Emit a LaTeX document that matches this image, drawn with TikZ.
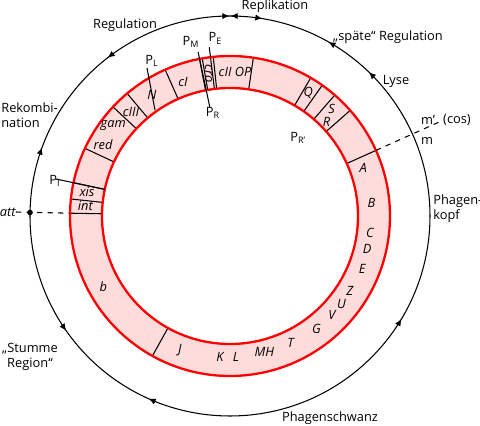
\documentclass[tikz,border=0pt]{standalone}
\usepackage{fontspec}
\setmainfont{Open Sans}
\usepackage{xcolor}
\definecolor{ringfill}{HTML}{FFDCDC}
\definecolor{ringedge}{HTML}{FF0000}
\usetikzlibrary{arrows.meta}

\begin{document}
\begin{tikzpicture}[
  font=\fontsize{7.3}{8.6}\selectfont,
  ring/.style={draw=ringedge, line width=1.3pt},
  cut/.style={draw=black, line width=0.6pt},
  gene/.style={font=\fontsize{7.3}{8.6}\selectfont\itshape, inner sep=0pt},
  region/.style={align=left, inner sep=0pt},
  prom/.style={inner sep=0pt},
  tip/.style={-{Latex[length=4pt,width=3.6pt]}, line width=0.6pt}
]
  \useasboundingbox (-4.6,-4.2) rectangle (5.0,4.32);

  % outer circle with the regions
  \draw[line width=0.6pt] (0,0) circle (4);
  \foreach \a/\d in {127.7/1, 90.2/-1, 89.8/1, 80.7/-1, 60.5/1, 46/1, -31/1, 246/-1, 160/-1, 215/1}
    \draw[tip] ({\a-2*\d}:4) arc[start angle={\a-2*\d}, end angle=\a, radius=4];

  % genome ring
  \fill[ringfill, even odd rule] (0,0) circle (3.2) (0,0) circle (2.56);
  \foreach \a in {179, 173.9, 168, 155, 137, 130, 113.9, 101, 100, 97, 96, 81.6,
                  59.7, 54.8, 49.1, 41.3, 24.2, 241}
    \draw[cut] (\a:2.56) -- (\a:3.2);
  \draw[ring] (0,0) circle (3.2);
  \draw[ring] (0,0) circle (2.56);

  % att and cos
  \node[gene, anchor=east] (att) at (-4.28,0.08) {att};
  \draw[dashed, line width=0.6pt] (att.east) -- (179:3.2);
  \fill (179:4) circle (1.6pt);
  \draw[dashed, line width=0.6pt] (24.2:3.2) -- (24.2:4.67);
  \node[prom] (mprime) at (3.96,1.92) {m'};
  \node[prom] (cos) at (4.54,1.92) {(cos)};
  \node[prom] (m) at (3.94,1.5) {m};

  % promoters
  \node[prom] (pi) at (-3.5,0.7) {P\textsubscript{I}};
  \draw[cut] (168:2.56) -- (168:3.56);
  \node[prom] (pl) at (-1.56,3.1) {P\textsubscript{L}};
  \draw[cut] (-1.5,2.12) -- (-1.66,2.96);
  \node[prom] (pm) at (-0.78,3.48) {P\textsubscript{M}};
  \node[prom] (pr) at (-0.34,2.06) {P\textsubscript{R}};
  \draw[cut] (100.5:2.22) -- (101:3.34);
  \node[prom] (pe) at (-0.29,3.55) {P\textsubscript{E}};
  \draw[cut] (97:3.2) -- (97:3.4);
  \node[prom] (prr) at (48.7:2.07) {P\textsubscript{R'}};

  % genes
  \node[gene] (int) at (176:2.9) {int};
  \node[gene] (xis) at (170.5:2.9) {xis};
  \node[gene] (red) at (150.8:2.91) {red};
  \node[gene] (gam) at (142.1:2.96) {gam};
  \node[gene] (ciii) at (133.5:2.88) {cIII};
  \node[gene] (n) at (122.9:2.88) {N};
  \node[gene] (ci) at (109.3:2.84) {cI};
  \node[gene, rotate=-90] (cro) at (98.6:2.88) {cro};
  \node[gene] (ciiop) at (88:2.89) {cII OP};
  \node[gene] (q) at (57.5:2.91) {Q};
  \node[gene] (s) at (46.6:2.96) {S};
  \node[gene] (r) at (44.3:2.70) {R};
  \node[gene] (a) at (19.7:2.83) {A};
  \node[gene] (b) at (5.1:2.84) {B};
  \node[gene] (c) at (353:2.82) {C};
  \node[gene] (d) at (346.4:2.82) {D};
  \node[gene] (e) at (338:2.85) {E};
  \node[gene] (z) at (328.1:2.82) {Z};
  \node[gene] (u) at (321.8:2.84) {U};
  \node[gene] (v) at (315.8:2.84) {V};
  \node[gene] (g) at (307.4:2.85) {G};
  \node[gene] (t) at (295.5:2.82) {T};
  \node[gene] (mh) at (284.2:2.80) {MH};
  \node[gene] (l) at (272.4:2.82) {L};
  \node[gene] (k) at (265.9:2.83) {K};
  \node[gene] (j) at (249.5:2.86) {J};
  \node[gene] (bb) at (209.2:2.90) {b};

  % regions
  \node[region] (regul) at (-2.1,3.82) {Regulation};
  \node[region] (repl) at (0.9,4.2) {Replikation};
  \node[region] (spaet) at (3.16,3.58) {„späte“ Regulation};
  \node[region] (lyse) at (3.32,2.7) {Lyse};
  \node[region, anchor=west] (kopf) at (4.06,0.14) {Phagen-\\kopf};
  \node[region] (schwanz) at (2.0,-4.04) {Phagenschwanz};
  \node[region, align=center] (stumm) at (-4.0,-2.82) {„Stumme\\Region“};
  \node[region, anchor=west] (rekomb) at (-4.58,2.02) {Rekombi-\\nation};
\end{tikzpicture}
\end{document}
